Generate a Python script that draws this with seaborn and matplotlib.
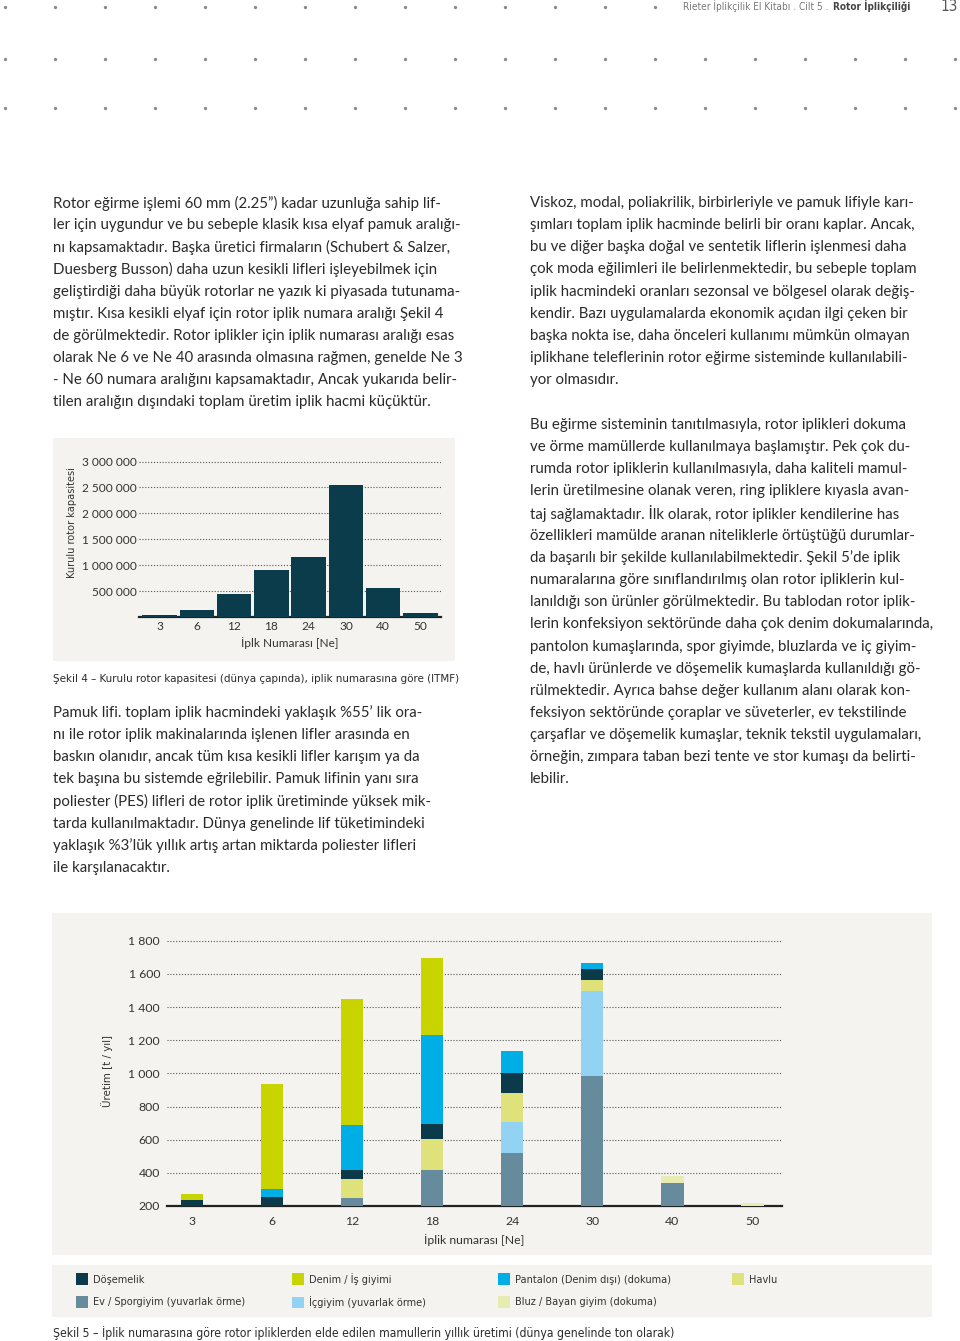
import numpy as np
import pandas as pd
import matplotlib
matplotlib.use("Agg")
import matplotlib.pyplot as plt
import seaborn as sns
from matplotlib import font_manager as fm
from matplotlib.patches import Rectangle, Patch
from matplotlib.ticker import FuncFormatter

# ---------------- data ----------------
ne_labels = ["3", "6", "12", "18", "24", "30", "40", "50"]
rotor_capacity = [30000, 135000, 445000, 915000, 1155000, 2540000, 560000, 70000]
cap_ticks = [500000, 1000000, 1500000, 2000000, 2500000, 3000000]

# stacked production segments (t / yil), bottom -> top, above the 200 baseline
ev_spor   = [0, 0, 46, 217, 318, 786, 137, 0]
icgiyim   = [0, 0, 0, 0, 191, 508, 0, 0]
bluz      = [0, 0, 0, 0, 0, 0, 44, 16]
havlu     = [0, 0, 115, 185, 170, 70, 0, 0]
dosemelik = [38, 54, 58, 90, 125, 66, 0, 0]
pantalon  = [0, 46, 269, 539, 131, 36, 0, 0]
denim     = [32, 634, 762, 466, 0, 0, 0, 0]
prod_base = 200
prod_ticks = [200, 400, 600, 800, 1000, 1200, 1400, 1600, 1800]

segment_names = ["Ev / Sporgiyim (yuvarlak örme)", "İçgiyim (yuvarlak örme)",
                 "Bluz / Bayan giyim (dokuma)", "Havlu", "Döşemelik",
                 "Pantalon (Denim dışı) (dokuma)", "Denim / İş giyimi"]
segment_values = [ev_spor, icgiyim, bluz, havlu, dosemelik, pantalon, denim]
segment_colors = ["#668b9c", "#92d2f2", "#e8ebb2", "#dfe27a", "#0b3a4a",
                  "#00aee6", "#c8d400"]
legend_columns = [["Döşemelik", "Ev / Sporgiyim (yuvarlak örme)"],
                  ["Denim / İş giyimi", "İçgiyim (yuvarlak örme)"],
                  ["Pantalon (Denim dışı) (dokuma)", "Bluz / Bayan giyim (dokuma)"],
                  ["Havlu"]]

left_col_1 = [
    "Rotor eğirme işlemi 60 mm (2.25”) kadar uzunluğa sahip lif-",
    "ler için uygundur ve bu sebeple klasik kısa elyaf pamuk aralığı-",
    "nı kapsamaktadır. Başka üretici firmaların (Schubert & Salzer,",
    "Duesberg Busson) daha uzun kesikli lifleri işleyebilmek için",
    "geliştirdiği daha büyük rotorlar ne yazık ki piyasada tutunama-",
    "mıştır. Kısa kesikli elyaf için rotor iplik numara aralığı Şekil 4",
    "de görülmektedir. Rotor iplikler için iplik numarası aralığı esas",
    "olarak Ne 6 ve Ne 40 arasında olmasına rağmen, genelde Ne 3",
    "- Ne 60 numara aralığını kapsamaktadır, Ancak yukarıda belir-",
    "tilen aralığın dışındaki toplam üretim iplik hacmi küçüktür.",
]
left_col_2 = [
    "Pamuk lifi. toplam iplik hacmindeki yaklaşık %55’ lik ora-",
    "nı ile rotor iplik makinalarında işlenen lifler arasında en",
    "baskın olanıdır, ancak tüm kısa kesikli lifler karışım ya da",
    "tek başına bu sistemde eğrilebilir. Pamuk lifinin yanı sıra",
    "poliester (PES) lifleri de rotor iplik üretiminde yüksek mik-",
    "tarda kullanılmaktadır. Dünya genelinde lif tüketimindeki",
    "yaklaşık %3’lük yıllık artış artan miktarda poliester lifleri",
    "ile karşılanacaktır.",
]
right_col_1 = [
    "Viskoz, modal, poliakrilik, birbirleriyle ve pamuk lifiyle karı-",
    "şımları toplam iplik hacminde belirli bir oranı kaplar. Ancak,",
    "bu ve diğer başka doğal ve sentetik liflerin işlenmesi daha",
    "çok moda eğilimleri ile belirlenmektedir, bu sebeple toplam",
    "iplik hacmindeki oranları sezonsal ve bölgesel olarak değiş-",
    "kendir. Bazı uygulamalarda ekonomik açıdan ilgi çeken bir",
    "başka nokta ise, daha önceleri kullanımı mümkün olmayan",
    "iplikhane teleflerinin rotor eğirme sisteminde kullanılabili-",
    "yor olmasıdır.",
]
right_col_2 = [
    "Bu eğirme sisteminin tanıtılmasıyla, rotor iplikleri dokuma",
    "ve örme mamüllerde kullanılmaya başlamıştır. Pek çok du-",
    "rumda rotor ipliklerin kullanılmasıyla, daha kaliteli mamul-",
    "lerin üretilmesine olanak veren, ring ipliklere kıyasla avan-",
    "taj sağlamaktadır. İlk olarak, rotor iplikler kendilerine has",
    "özellikleri mamülde aranan niteliklerle örtüştüğü durumlar-",
    "da başarılı bir şekilde kullanılabilmektedir. Şekil 5’de iplik",
    "numaralarına göre sınıflandırılmış olan rotor ipliklerin kul-",
    "lanıldığı son ürünler görülmektedir. Bu tablodan rotor iplik-",
    "lerin konfeksiyon sektöründe daha çok denim dokumalarında,",
    "pantolon kumaşlarında, spor giyimde, bluzlarda ve iç giyim-",
    "de, havlı ürünlerde ve döşemelik kumaşlarda kullanıldığı gö-",
    "rülmektedir. Ayrıca bahse değer kullanım alanı olarak kon-",
    "feksiyon sektöründe çoraplar ve süveterler, ev tekstilinde",
    "çarşaflar ve döşemelik kumaşlar, teknik tekstil uygulamaları,",
    "örneğin, zımpara taban bezi tente ve stor kumaşı da belirti-",
    "lebilir.",
]
caption_4 = "Şekil 4 – Kurulu rotor kapasitesi (dünya çapında), iplik numarasına göre (ITMF)"
caption_5 = "Şekil 5 – İplik numarasına göre rotor ipliklerden elde edilen mamullerin yıllık üretimi (dünya genelinde ton olarak)"

# ---------------- style ----------------
sns.set_theme(style="white")
BODY = ["Lato", "DejaVu Sans"]
plt.rcParams["font.family"] = BODY
TXT = "#2a2a2a"
PANEL = "#f4f3ef"

# choose a condensed face if one exists
_entries = fm.fontManager.ttflist
_names = {f.name for f in _entries}
if "Liberation Sans Narrow" in _names:
    NARROW = dict(family=["Liberation Sans Narrow", "DejaVu Sans"])
elif any(f.name == "DejaVu Sans" and str(f.stretch) in ("condensed", "semi-condensed")
         for f in _entries):
    NARROW = dict(family=["DejaVu Sans"], stretch="condensed")
else:
    NARROW = dict(family=BODY)

W, H = 960, 1341
fig = plt.figure(figsize=(W / 100, H / 100), dpi=100)
fig.patch.set_facecolor("white")
renderer = fig.canvas.get_renderer()

bg = fig.add_axes([0, 0, 1, 1], zorder=0)
bg.set_xlim(0, W)
bg.set_ylim(H, 0)
bg.axis("off")


def px_axes(l, t, r, b):
    return fig.add_axes([l / W, 1 - b / H, (r - l) / W, (b - t) / H], zorder=2)


def fit_text(x, y, s, width, rotation=0, fs0=9.0, **kw):
    t = bg.text(x, y, s, fontsize=fs0, **kw)
    w = t.get_window_extent(renderer=renderer).width
    t.set_fontsize(fs0 * width / w)
    t.set_rotation(rotation)
    return t


# decorative dot grid
for yy, n in [(7, 14), (59, 20), (108, 20)]:
    bg.plot([5 + 50 * i for i in range(n)], [yy] * n, ls="none", marker="o",
            ms=2.4, color="#8a8a8a", mec="none")

# header (right aligned, total width ~224 px)
hb = bg.text(910, 6, "Rotor İplikçiliği", ha="right", va="center", fontsize=8,
             weight="bold", color="#444444", **NARROW)
hr = bg.text(0, 6, "Rieter İplikçilik El Kitabı . Cilt 5 . ", ha="right", va="center",
             fontsize=8, color="#777777", **NARROW)
tot = hb.get_window_extent(renderer).width + hr.get_window_extent(renderer).width
hfs = 8 * 224 / tot
hb.set_fontsize(hfs)
hr.set_fontsize(hfs)
hr.set_x(910 - hb.get_window_extent(renderer).width - 1)
bg.text(958, 6, "13", ha="right", va="center", fontsize=11, color="#555555", **NARROW)

# body text
BODY_FS = 10.8
LS = 22.15
for lines, x0, y0 in [(left_col_1, 53, 203), (left_col_2, 53, 713),
                      (right_col_1, 530, 203), (right_col_2, 530, 425)]:
    for i, ln in enumerate(lines):
        bg.text(x0, y0 + i * LS, ln, ha="left", va="center", fontsize=BODY_FS,
                color=TXT)

fit_text(53, 679, caption_4, 405, ha="left", va="center", color=TXT, **NARROW)
fit_text(53, 1333, caption_5, 622, ha="left", va="center", color=TXT, **NARROW)

# panels
for (l, t, r, b) in [(53, 438, 455, 661), (52, 913, 932, 1255), (52, 1265, 932, 1317)]:
    bg.add_patch(Rectangle((l, t), r - l, b - t, facecolor=PANEL, edgecolor="none"))

# ---------------- chart 1: installed rotor capacity ----------------
cap_df = pd.DataFrame({"ne": ne_labels, "cap": rotor_capacity})
ax1 = px_axes(139, 456.4, 441, 617)
ax1.set_facecolor("none")
sns.barplot(data=cap_df, x="ne", y="cap", color="#0b3c4b", width=0.92,
            linewidth=0, saturation=1, ax=ax1, zorder=3)
ax1.set_ylim(0, 3100000)
ax1.set_xlim(-0.55, 7.55)
ax1.set_yticks(cap_ticks)
ax1.yaxis.set_major_formatter(FuncFormatter(lambda v, p: f"{int(v):,}".replace(",", " ")))
ax1.grid(axis="y", linestyle=(0, (1, 1.6)), color="#555555", lw=0.8)
ax1.grid(axis="x", visible=False)
for s in ["left", "right", "top"]:
    ax1.spines[s].set_visible(False)
ax1.spines["bottom"].set_color("#222222")
ax1.spines["bottom"].set_linewidth(1.6)
ax1.tick_params(axis="y", length=0, pad=1.5, labelsize=8.6, labelcolor="#333333")
ax1.tick_params(axis="x", length=0, pad=3, labelsize=8.6, labelcolor="#333333")
ax1.set_xlabel("")
ax1.set_ylabel("")
bg.text(290, 643, "İplk Numarası [Ne]", ha="center", va="center", fontsize=8.6,
        color="#333333")
fit_text(72, 523, "Kurulu rotor kapasitesi", 111, rotation=90, ha="center",
         va="center", color="#333333", **NARROW)

# ---------------- chart 2: stacked production ----------------
ax2 = px_axes(167, 932.4, 782, 1206)
ax2.set_facecolor("none")
bottom = np.full(len(ne_labels), float(prod_base))
for name, vals, col in zip(segment_names, segment_values, segment_colors):
    df = pd.DataFrame({"ne": ne_labels, "val": vals})
    sns.barplot(data=df, x="ne", y="val", color=col, width=0.28, saturation=1,
                linewidth=0, bottom=bottom, ax=ax2, zorder=3)
    bottom = bottom + np.array(vals, dtype=float)
ax2.set_ylim(prod_base, 1850)
ax2.set_xlim(-0.31, 7.37)
ax2.set_yticks(prod_ticks)
ax2.yaxis.set_major_formatter(FuncFormatter(lambda v, p: f"{int(v):,}".replace(",", " ")))
ax2.grid(axis="y", linestyle=(0, (1, 1.6)), color="#555555", lw=0.8)
ax2.grid(axis="x", visible=False)
for s in ["left", "right", "top"]:
    ax2.spines[s].set_visible(False)
ax2.spines["bottom"].set_color("#222222")
ax2.spines["bottom"].set_linewidth(1.6)
ax2.tick_params(axis="y", length=0, pad=5, labelsize=8.8, labelcolor="#333333")
ax2.tick_params(axis="x", length=0, pad=7, labelsize=8.8, labelcolor="#333333")
ax2.set_xlabel("")
ax2.set_ylabel("")
bg.text(474, 1240, "İplik numarası [Ne]", ha="center", va="center", fontsize=8.8,
        color="#333333")
fit_text(107, 1071, "Üretim [t / yıl]", 72, rotation=90, ha="center", va="center",
         color="#333333", **NARROW)

# legend: one column-legend per column, anchored at the reference column positions
color_of = dict(zip(segment_names, segment_colors))
probe = bg.text(0, 0, "Ev / Sporgiyim (yuvarlak örme)", fontsize=9, **NARROW)
leg_fs = 9 * 152 / probe.get_window_extent(renderer).width
probe.remove()
leg_prop = fm.FontProperties(family=NARROW["family"], size=leg_fs,
                             stretch=NARROW.get("stretch", "normal"))
fs_px = leg_fs * 100 / 72
for col_names, x_px in zip(legend_columns, [73, 289, 495, 729]):
    handles = [Patch(facecolor=color_of[n], edgecolor="none", label=n) for n in col_names]
    fig.legend(handles=handles, loc="upper left",
               bbox_to_anchor=(x_px / W, 1 - 1270 / H), ncol=1, frameon=False,
               prop=leg_prop, handlelength=12 / fs_px, handleheight=14 / fs_px,
               handletextpad=5 / fs_px, labelspacing=11 / fs_px, borderaxespad=0,
               borderpad=3 / fs_px, labelcolor="#333333")

fig.savefig("out.png", dpi=100, facecolor="white")
